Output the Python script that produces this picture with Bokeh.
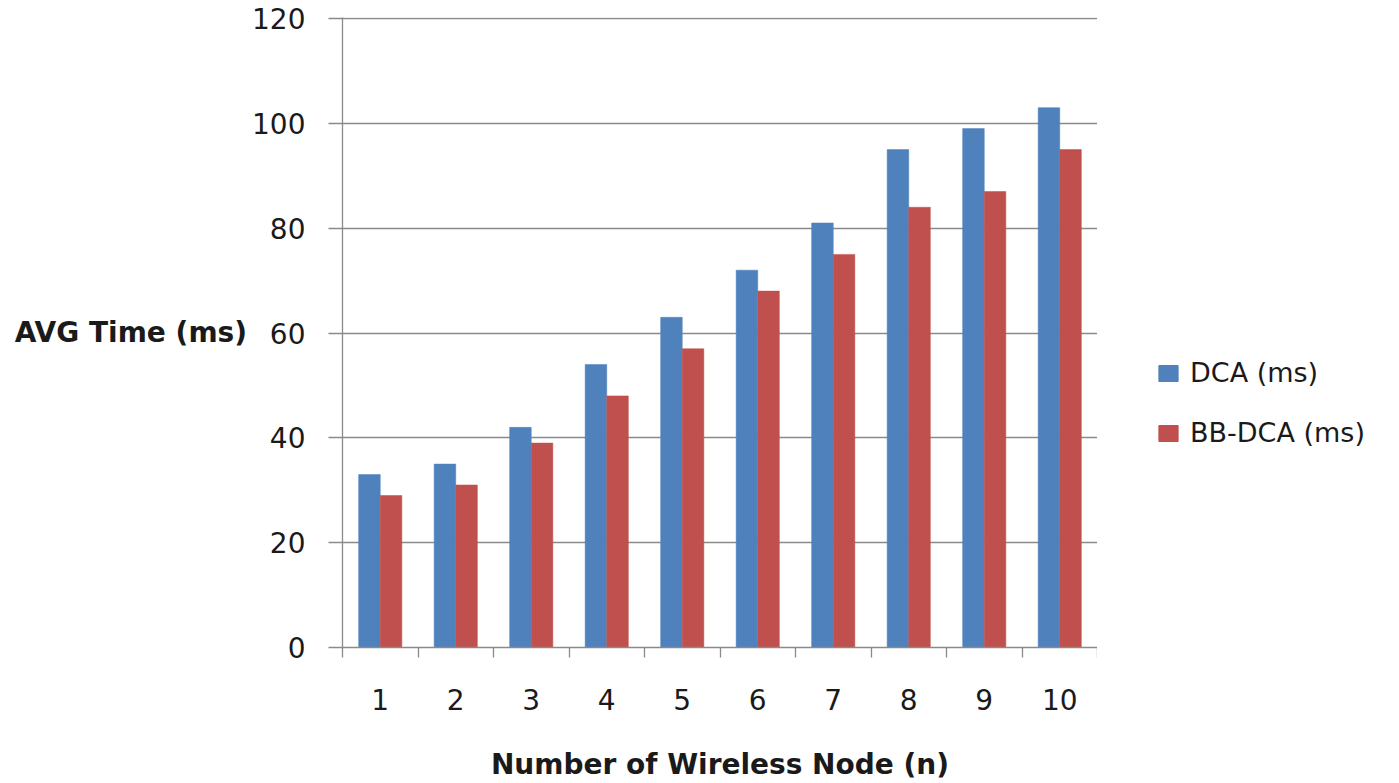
from bokeh.plotting import figure
from bokeh.layouts import row
from bokeh.models import ColumnDataSource, FixedTicker, Legend, LegendItem
from bokeh.embed import file_html
from bokeh.resources import INLINE

# Average processing time per number of wireless nodes
nodes = [1, 2, 3, 4, 5, 6, 7, 8, 9, 10]
dca_ms = [33, 35, 42, 54, 63, 72, 81, 95, 99, 103]
bbdca_ms = [29, 31, 39, 48, 57, 68, 75, 84, 87, 95]
series_names = ["DCA (ms)", "BB-DCA (ms)"]
y_ticks = [0, 20, 40, 60, 80, 100, 120]

BLUE = "#4F81BD"
RED = "#C0504D"
GRID = "#8a8a8a"
TXT = "#1a1a1a"
FONT = "DejaVu Sans"

BAR_W = 0.286
src = ColumnDataSource(dict(
    x_dca=[n - BAR_W / 2 for n in nodes],
    x_bb=[n + BAR_W / 2 for n in nodes],
    dca=dca_ms,
    bb=bbdca_ms,
))

p = figure(width=1097, height=783, x_range=(0.5, 10.5), y_range=(0, 120.2),
           output_backend="svg", toolbar_location=None, title=None,
           min_border_left=342, min_border_right=0,
           min_border_top=17, min_border_bottom=136)
p.outline_line_color = None
p.background_fill_color = "white"
p.border_fill_color = "white"

p.vbar(x="x_dca", top="dca", width=BAR_W, source=src,
       fill_color=BLUE, line_color=BLUE, line_width=0.5)
p.vbar(x="x_bb", top="bb", width=BAR_W, source=src,
       fill_color=RED, line_color=RED, line_width=0.5)

# x axis: labels at category centres, tick marks on category boundaries
xa = p.xaxis[0]
xa.ticker = FixedTicker(ticks=nodes,
                        minor_ticks=[n - 0.5 for n in nodes] + [10.5])
xa.major_tick_out = 0
xa.major_tick_in = 0
xa.minor_tick_out = 10
xa.minor_tick_in = 0
xa.minor_tick_line_color = GRID
xa.minor_tick_line_width = 1.3
xa.axis_line_color = GRID
xa.axis_line_width = 1.3
xa.major_label_text_font = FONT
xa.major_label_text_font_size = "28px"
xa.major_label_text_color = TXT
xa.major_label_standoff = 31
xa.axis_label = "Number of Wireless Node (n)"
xa.axis_label_text_font = FONT
xa.axis_label_text_font_style = "bold"
xa.axis_label_text_font_size = "28px"
xa.axis_label_text_color = TXT
xa.axis_label_standoff = 35

# y axis with a horizontal title left of the tick labels
ya = p.yaxis[0]
ya.ticker = FixedTicker(ticks=y_ticks)
ya.major_tick_out = 14
ya.major_tick_in = 0
ya.minor_tick_out = 0
ya.minor_tick_in = 0
ya.major_tick_line_color = GRID
ya.major_tick_line_width = 1.3
ya.axis_line_color = GRID
ya.axis_line_width = 1.3
ya.major_label_text_font = FONT
ya.major_label_text_font_size = "28px"
ya.major_label_text_color = TXT
ya.major_label_standoff = 23
ya.axis_label = "AVG Time (ms)"
ya.axis_label_orientation = "horizontal"
ya.axis_label_text_font = FONT
ya.axis_label_text_font_style = "bold"
ya.axis_label_text_font_size = "28px"
ya.axis_label_text_color = TXT
ya.axis_label_standoff = 2

p.xgrid.grid_line_color = None
p.ygrid.ticker = FixedTicker(ticks=y_ticks)
p.ygrid.grid_line_color = GRID
p.ygrid.grid_line_width = 1.3

# legend panel to the right of the chart; its key renderers sit off-view
leg = figure(width=302, height=783, output_backend="svg",
             toolbar_location=None, title=None,
             x_range=(0, 1), y_range=(0, 1),
             min_border_left=0, min_border_right=0,
             min_border_top=0, min_border_bottom=0,
             x_axis_type=None, y_axis_type=None)
leg.outline_line_color = None
leg.xgrid.grid_line_color = None
leg.ygrid.grid_line_color = None
key_src = ColumnDataSource(dict(x=[5], top=[5]))
k_dca = leg.vbar(x="x", top="top", width=1, source=key_src,
                 fill_color=BLUE, line_color=BLUE)
k_bb = leg.vbar(x="x", top="top", width=1, source=key_src,
                fill_color=RED, line_color=RED)

legend = Legend(items=[LegendItem(label=series_names[0], renderers=[k_dca]),
                       LegendItem(label=series_names[1], renderers=[k_bb])],
                location=(59, 199), padding=0, margin=0, spacing=29,
                glyph_width=24, glyph_height=20, label_standoff=10,
                label_text_font=FONT, label_text_font_size="27px",
                label_text_color=TXT, border_line_color=None,
                background_fill_alpha=0)
leg.add_layout(legend)

open("out.html", "w").write(file_html(row(p, leg), INLINE))
